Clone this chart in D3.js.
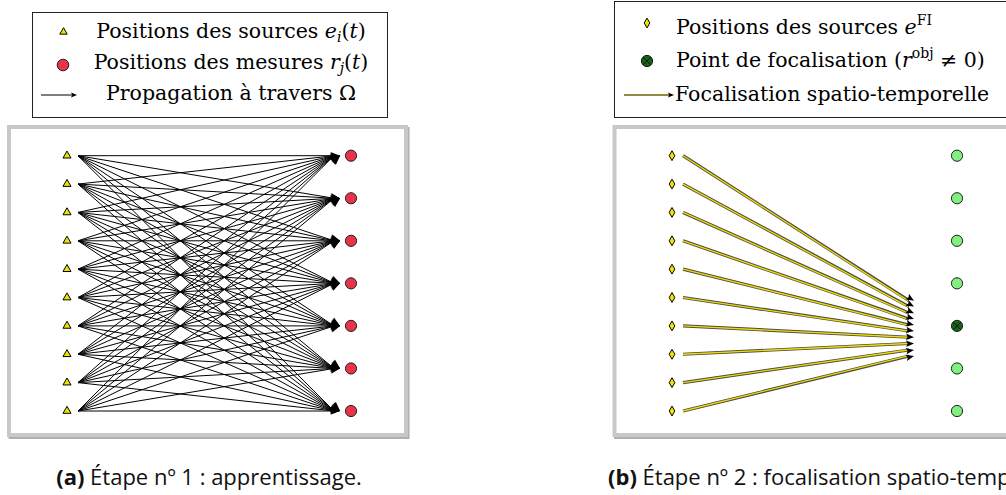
<!DOCTYPE html>
<html><head><meta charset="utf-8">
<script src="https://cdn.jsdelivr.net/npm/d3@7"></script>
<style>body{margin:0;background:#fff;} svg{display:block}</style>
</head><body><svg id="c" width="1006" height="495"></svg>
<script>
// ---------- data ----------
const sourceIdx = [0,1,2,3,4,5,6,7,8,9];           // 10 sources (positions along the aperture)
const receiverPos = [0,1.5,3,4.5,6,7.5,9];         // 7 measurement points (same position units)
const focusIndex = 4;                              // focal point = 5th receiver
const focusArrival = [5.11,5.32,5.55,5.76,5.97,6.18,6.40,6.62,6.85,7.06]; // arrow tips (b)
const captionA = ["(a)", " Étape nº 1 : apprentissage."];
const captionB = ["(b)", " Étape nº 2 : focalisation spatio-temporelle."];

// ---------- style ----------
const SERIF = "'DejaVu Serif', serif";
const SANS = "'Open Sans', 'DejaVu Sans', sans-serif";
const YEL = "#f2e200", RED = "#e8344b", LGREEN = "#80f080", DGREEN = "#146414";

const svg = d3.select("#c");
const y = d3.scaleLinear().domain([0, 9]).range([155.7, 411]);
const xa = d3.scaleLinear().domain([0, 1]).range([78, 340]);   // panel a: line start -> tip
const xb = d3.scaleLinear().domain([0, 1]).range([683, 914]);  // panel b

function arrowHead(g, x0, y0, x1, y1, L, W, fill) {
  const a = Math.atan2(y1 - y0, x1 - x0) * 180 / Math.PI;
  g.append("path").attr("d", `M0,0 L${-L},${-W/2} L${-L*0.8},0 L${-L},${W/2} Z`)
    .attr("transform", `translate(${x1},${y1}) rotate(${a})`).attr("fill", fill);
}

// ---------- frames ----------
function frame(x, yy, w, h) {
  svg.append("rect").attr("x", x + 1.5).attr("y", yy + 2).attr("width", w).attr("height", h)
    .attr("fill", "none").attr("stroke", "#b0b0b0").attr("stroke-width", 4);
  svg.append("rect").attr("x", x).attr("y", yy).attr("width", w).attr("height", h)
    .attr("fill", "#fff").attr("stroke", "#c8c8c8").attr("stroke-width", 4);
}
frame(9, 127, 397, 308);
frame(614.5, 127, 500, 308);

// ---------- panel a ----------
const ga = svg.append("g");
sourceIdx.forEach(i => receiverPos.forEach(r => {
  ga.append("line").attr("x1", xa(0)).attr("y1", y(i)).attr("x2", xa(1) - 6).attr("y2", y(r))
    .attr("stroke", "#000").attr("stroke-width", 1);
}));
sourceIdx.forEach(i => receiverPos.forEach(r => arrowHead(ga, xa(0), y(i), xa(1), y(r), 9.5, 7.5, "#000")));
ga.selectAll(".src").data(sourceIdx).join("path")
  .attr("d", d3.symbol(d3.symbolTriangle, 28))
  .attr("transform", d => `translate(${xa(0) - 11},${y(d)})`)
  .attr("fill", YEL).attr("stroke", "#000").attr("stroke-width", 1);
ga.selectAll(".rcv").data(receiverPos).join("circle")
  .attr("cx", xa(1) + 11).attr("cy", d => y(d)).attr("r", 5.6)
  .attr("fill", RED).attr("stroke", "#222").attr("stroke-width", 1);

// ---------- panel b ----------
const gb = svg.append("g");
sourceIdx.forEach(i => {
  gb.append("line").attr("x1", xb(0)).attr("y1", y(i)).attr("x2", xb(1) - 5).attr("y2", y(focusArrival[i]))
    .attr("stroke", "#4a4a4a").attr("stroke-width", 3.2);
  gb.append("line").attr("x1", xb(0)).attr("y1", y(i)).attr("x2", xb(1) - 6).attr("y2", y(focusArrival[i]))
    .attr("stroke", "#f0dc00").attr("stroke-width", 1.3);
});
sourceIdx.forEach(i => arrowHead(gb, xb(0), y(i), xb(1), y(focusArrival[i]), 8, 6.5, "#000"));
gb.selectAll(".src").data(sourceIdx).join("path")
  .attr("d", d3.symbol(d3.symbolDiamond, 28))
  .attr("transform", d => `translate(${xb(0) - 11},${y(d)})`)
  .attr("fill", YEL).attr("stroke", "#000").attr("stroke-width", 1);
gb.selectAll(".rcv").data(receiverPos).join("circle")
  .attr("cx", 957).attr("cy", d => y(d)).attr("r", 5.6)
  .attr("fill", (d, k) => k === focusIndex ? DGREEN : LGREEN).attr("stroke", "#222").attr("stroke-width", 1);
{
  const fy = y(receiverPos[focusIndex]), d = 3.6;
  gb.append("path").attr("d", `M${957-d},${fy-d}L${957+d},${fy+d}M${957-d},${fy+d}L${957+d},${fy-d}`)
    .attr("stroke", "#111").attr("stroke-width", 1);
}

// ---------- legends ----------
function legendBox(x, yy, w, h) {
  svg.append("rect").attr("x", x).attr("y", yy).attr("width", w).attr("height", h)
    .attr("fill", "#fff").attr("stroke", "#222").attr("stroke-width", 1);
}
legendBox(32.5, 12.5, 355, 105);
legendBox(614.5, 1.5, 500, 116);

const LFS = 20.5, SFS = 14;
function ltext(x, yy, anchor) {
  return svg.append("text").attr("x", x).attr("y", yy).attr("text-anchor", anchor)
    .attr("font-family", SERIF).attr("font-size", LFS).attr("fill", "#000");
}
// left legend
svg.append("path").attr("d", d3.symbol(d3.symbolTriangle, 24)).attr("transform", "translate(63.5,32)")
  .attr("fill", YEL).attr("stroke", "#000").attr("stroke-width", 1);
svg.append("circle").attr("cx", 63).attr("cy", 65).attr("r", 5.8).attr("fill", RED).attr("stroke", "#222");
svg.append("line").attr("x1", 41).attr("y1", 95).attr("x2", 72).attr("y2", 95).attr("stroke", "#000").attr("stroke-width", 1);
arrowHead(svg, 41, 95, 77, 95, 6, 5, "#000");

let t = ltext(231, 38, "middle");
t.append("tspan").text("Positions des sources ");
t.append("tspan").attr("font-style", "italic").text("e");
t.append("tspan").attr("font-style", "italic").attr("font-size", SFS).attr("dy", 4).text("i");
t.append("tspan").attr("dy", -4).text("(");
t.append("tspan").attr("font-style", "italic").text("t");
t.append("tspan").text(")");
t = ltext(231, 69, "middle");
t.append("tspan").text("Positions des mesures ");
t.append("tspan").attr("font-style", "italic").text("r");
t.append("tspan").attr("font-style", "italic").attr("font-size", SFS).attr("dy", 4).text("j");
t.append("tspan").attr("dy", -4).text("(");
t.append("tspan").attr("font-style", "italic").text("t");
t.append("tspan").text(")");
t = ltext(231, 100, "middle");
t.append("tspan").text("Propagation à travers Ω");

// right legend
svg.append("path").attr("d", d3.symbol(d3.symbolDiamond, 28)).attr("transform", "translate(647,23)")
  .attr("fill", YEL).attr("stroke", "#000").attr("stroke-width", 1);
svg.append("circle").attr("cx", 647).attr("cy", 61).attr("r", 5.6).attr("fill", DGREEN).attr("stroke", "#111");
svg.append("path").attr("d", "M643.3,57.3L650.7,64.7M643.3,64.7L650.7,57.3").attr("stroke", "#111").attr("stroke-width", 1);
svg.append("line").attr("x1", 624).attr("y1", 95).attr("x2", 670).attr("y2", 95).attr("stroke", "#6b6400").attr("stroke-width", 1.6);
arrowHead(svg, 624, 95, 674, 95, 6, 5, "#000");

t = ltext(676, 34, "start");
t.append("tspan").text("Positions des sources ");
t.append("tspan").attr("font-style", "italic").text("e");
t.append("tspan").attr("font-size", SFS).attr("dy", -9).text("FI");
t = ltext(676, 67, "start");
t.append("tspan").text("Point de focalisation (");
t.append("tspan").attr("font-style", "italic").text("r");
t.append("tspan").attr("font-size", SFS).attr("dy", -9).text("obj");
t.append("tspan").attr("dy", 9).text(" ≠ 0)");
t = ltext(675, 101, "start");
t.append("tspan").text("Focalisation spatio-temporelle");

// ---------- captions ----------
function caption(x, anchor, parts) {
  const c = svg.append("text").attr("x", x).attr("y", 485).attr("text-anchor", anchor)
    .attr("font-family", SANS).attr("font-size", 22).attr("fill", "#111");
  c.append("tspan").attr("font-weight", "bold").text(parts[0]);
  c.append("tspan").text(parts[1]);
}
caption(209, "middle", captionA);
caption(608, "start", captionB);
</script></body></html>
